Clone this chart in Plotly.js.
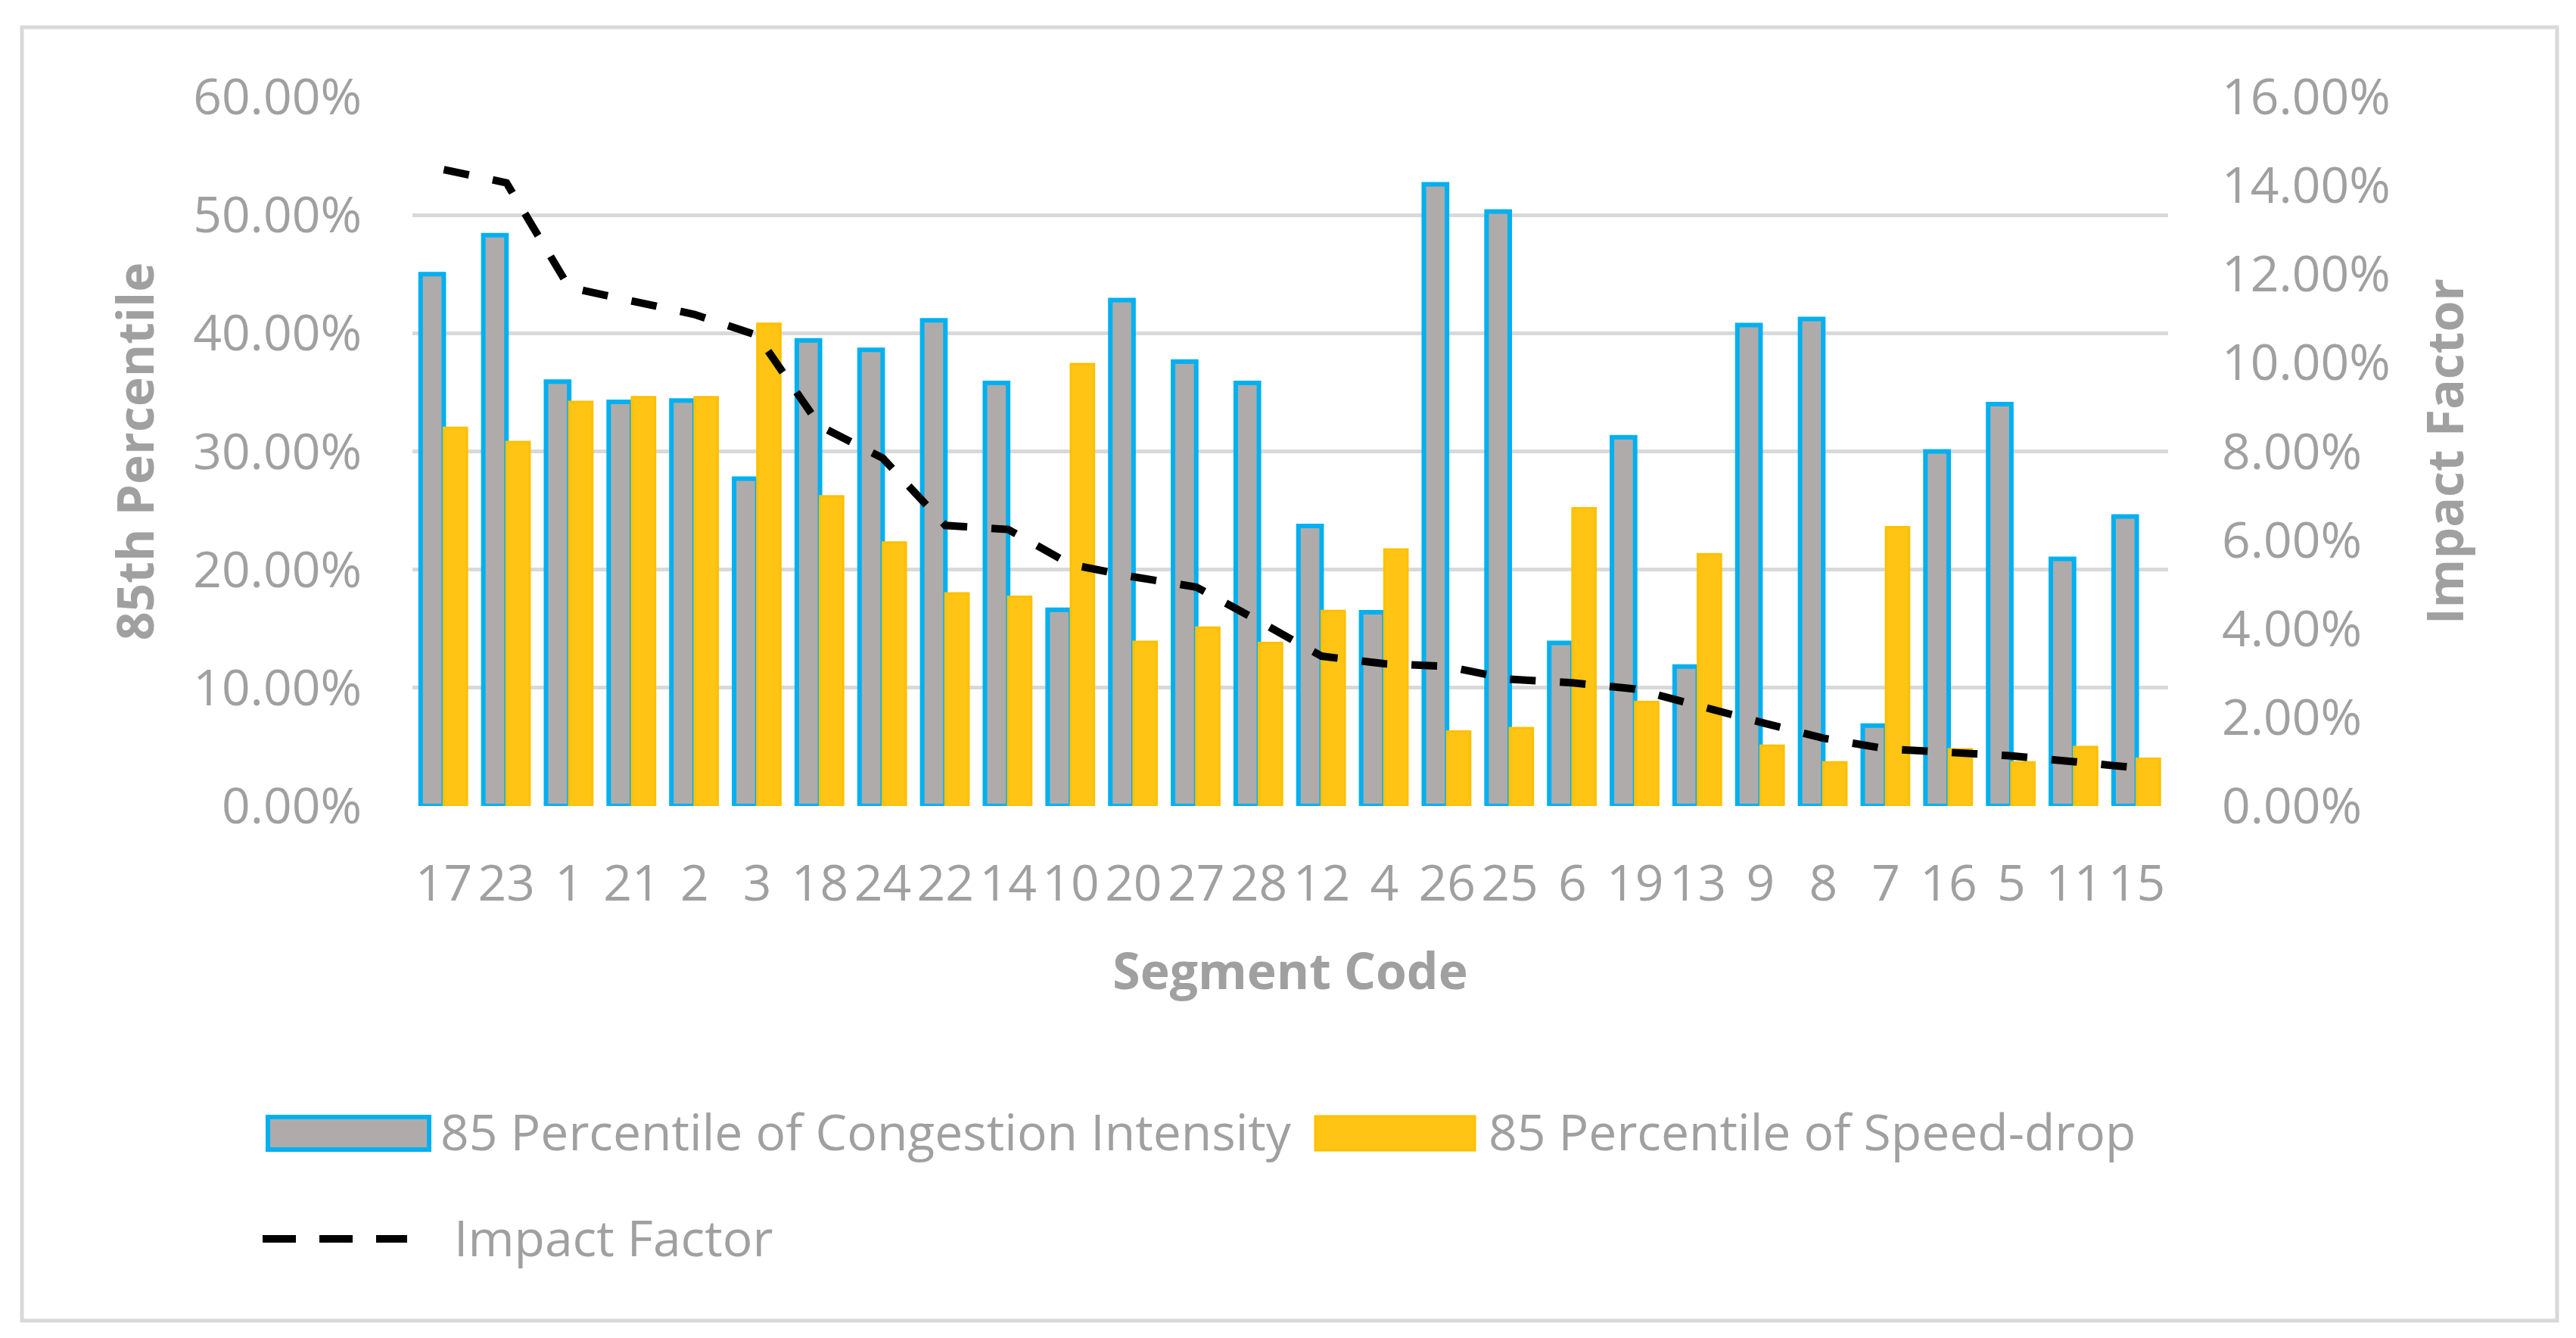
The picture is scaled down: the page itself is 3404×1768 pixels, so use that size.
<!DOCTYPE html>
<html>
<head>
<meta charset="utf-8">
<script src="https://cdn.plot.ly/plotly-3.0.1.min.js"></script>
<style>
html, body { margin: 0; padding: 0; background: #fff; }
#chart { width: 3404px; height: 1768px; }
</style>
</head>
<body>
<div id="chart"></div>
<script>
//DATA (in %)
var segments = ['17', '23', '1', '21', '2', '3', '18', '24', '22', '14', '10', '20', '27', '28',
	'12', '4', '26', '25', '6', '19', '13', '9', '8', '7', '16', '5', '11', '15'];
var congestion = [45.0, 48.3, 35.9, 34.2, 34.3, 27.7, 39.4, 38.6, 41.1, 35.8, 16.6, 42.8, 37.6, 35.8,
	23.7, 16.4, 52.6, 50.3, 13.8, 31.2, 11.8, 40.7, 41.2, 6.8, 30.0, 34.0, 20.9, 24.5];
var speedDrop = [32.0, 30.8, 34.2, 34.6, 34.6, 40.8, 26.2, 22.3, 18.0, 17.7, 37.4, 13.9, 15.1, 13.8,
	16.5, 21.7, 6.3, 6.6, 25.2, 8.8, 21.3, 5.1, 3.7, 23.6, 4.8, 3.7, 5.0, 4.0];
var impact = [14.36, 14.06, 11.70, 11.40, 11.09, 10.62, 8.57, 7.85, 6.33, 6.24, 5.45, 5.17, 4.94, 4.17,
	3.38, 3.21, 3.15, 2.86, 2.78, 2.64, 2.25, 1.89, 1.53, 1.29, 1.21, 1.13, 1.00, 0.86];

var names = ['85 Percentile of Congestion Intensity', '85 Percentile of Speed-drop', 'Impact Factor'];

//LAYOUT HELPERS
var plotL = 545, plotR = 2865, plotT = 128, plotB = 1065;
var textGray = '#A0A0A0';
var fontFamily = '"Open Sans", "Noto Sans", sans-serif';

// page pixels -> paper coords
function px(x){ return (x - plotL) / (plotR - plotL); }
function py(y){ return (plotB - y) / (plotB - plotT); }

//TRACES
var traces = [
	{
		x: segments, y: congestion,
		type: 'bar', name: names[0],
		marker: {color: '#AFABAB', line: {color: '#00B0F0', width: 6}}
	},
	{
		x: segments, y: speedDrop,
		type: 'bar', name: names[1],
		marker: {color: '#FFC414', line: {color: '#FFC000', width: 3}}
	},
	{
		x: segments, y: impact,
		type: 'scatter', mode: 'lines', name: names[2],
		yaxis: 'y2',
		line: {color: '#000000', width: 10, dash: '34px,32px'}
	}
];

//LEGEND (drawn by hand so the symbols get Excel-like size)
var shapes = [
	{type: 'rect', xref: 'paper', yref: 'paper',
		x0: px(29), x1: px(3379), y0: py(1745), y1: py(36),
		line: {color: '#D9D9D9', width: 5}, fillcolor: 'rgba(0,0,0,0)', layer: 'below'},
	{type: 'rect', xref: 'paper', yref: 'paper',
		x0: px(354), x1: px(567), y0: py(1519), y1: py(1476),
		line: {color: '#00B0F0', width: 6}, fillcolor: '#AFABAB'},
	{type: 'rect', xref: 'paper', yref: 'paper',
		x0: px(1738), x1: px(1949), y0: py(1520), y1: py(1475),
		line: {color: '#FFC000', width: 3}, fillcolor: '#FFC414'},
	{type: 'line', xref: 'paper', yref: 'paper',
		x0: px(347), x1: px(538), y0: py(1637), y1: py(1637),
		line: {color: '#000000', width: 10, dash: '44px,31px'}}
];

var legendFont = {family: fontFamily, size: 66, color: textGray};
var annotations = [
	{text: names[0], x: px(580), y: py(1494), xanchor: 'left', yanchor: 'middle'},
	{text: names[1], x: px(1965), y: py(1494), xanchor: 'left', yanchor: 'middle'},
	{text: names[2], x: px(598), y: py(1634), xanchor: 'left', yanchor: 'middle'}
].map(function(a){
	a.xref = 'paper'; a.yref = 'paper'; a.showarrow = false; a.font = legendFont;
	return a;
});

var tickFont = {family: fontFamily, size: 66, color: textGray};
var titleFont = {family: fontFamily, size: 66, color: textGray, weight: 'bold'};

var layout = {
	width: 3404, height: 1768,
	margin: {l: plotL, r: 3404 - plotR, t: plotT, b: 1768 - plotB, pad: 0},
	paper_bgcolor: '#ffffff', plot_bgcolor: '#ffffff',
	showlegend: false,
	barmode: 'group', bargap: 0.26, bargroupgap: 0,
	xaxis: {
		type: 'category', tickangle: 0, ticks: '',
		showgrid: false, zeroline: false, showline: false,
		tickfont: tickFont, ticklabelstandoff: 58,
		title: {text: 'Segment Code', font: titleFont, standoff: 52}
	},
	yaxis: {
		range: [0, 60], dtick: 10, tickformat: '.2f', ticksuffix: '%',
		ticks: '', showline: false, zeroline: false,
		gridcolor: '#D9D9D9', gridwidth: 5,
		tickfont: tickFont, ticklabelstandoff: 66,
		title: {text: '85th Percentile', font: titleFont, standoff: 30}
	},
	yaxis2: {
		overlaying: 'y', side: 'right',
		range: [0, 16], dtick: 2, tickformat: '.2f', ticksuffix: '%',
		ticks: '', showline: false, zeroline: false, showgrid: false,
		tickfont: tickFont, ticklabelstandoff: 70,
		title: {text: 'Impact Factor', font: titleFont, standoff: 50}
	},
	shapes: shapes,
	annotations: annotations,
	hovermode: false
};

Plotly.newPlot('chart', traces, layout, {displayModeBar: false, staticPlot: true});
</script>
</body>
</html>
